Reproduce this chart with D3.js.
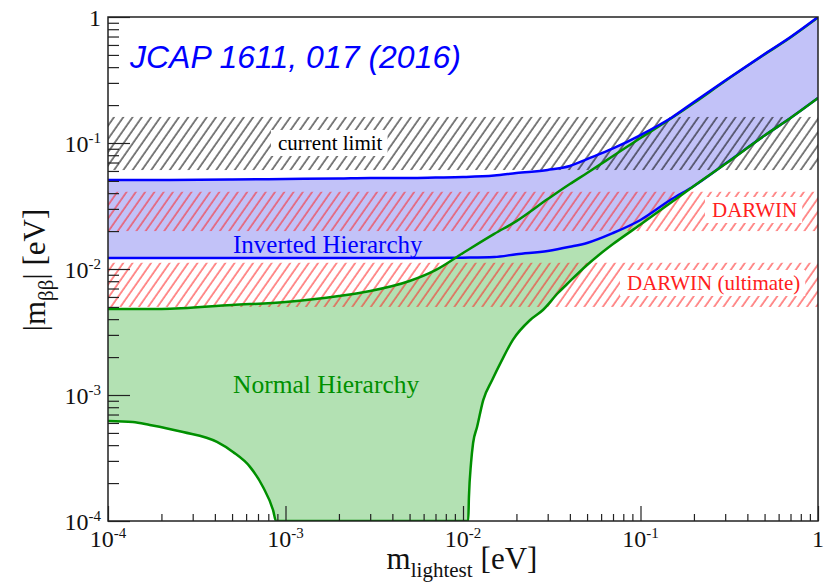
<!DOCTYPE html>
<html>
<head>
<meta charset="utf-8">
<script src="https://cdn.jsdelivr.net/npm/d3@7"></script>
<style>
  body { margin: 0; background: #fff; }
  svg text { font-family: "Liberation Serif", "Times New Roman", serif; }
</style>
</head>
<body>
<div id="chart"></div>
<script>
// ---- data (eV) ----
var gridM = [1e-4, 2e-4, 5e-4, 1e-3, 2e-3, 3e-3, 5e-3, 7e-3, 0.01, 0.015, 0.02,
             0.03, 0.04, 0.05, 0.07, 0.1, 0.15, 0.2, 0.3, 0.5, 0.7, 1];
var ihUpper = [0.0508, 0.0508, 0.0513, 0.0518, 0.0523, 0.0528, 0.0528, 0.0532, 0.0537, 0.0552, 0.0578,
               0.0611, 0.0657, 0.0745, 0.0905, 0.1157, 0.1594, 0.2115, 0.3133, 0.5085, 0.694, 1.0];
var nhUpper = [0.00482, 0.00482, 0.00518, 0.00547, 0.0061, 0.00669, 0.00803, 0.0098, 0.0134, 0.0190, 0.0240,
               0.0359, 0.0473, 0.0578, 0.0788, 0.1096, 0.158, 0.2077, 0.3105, 0.504, 0.6876, 0.99];

var ihLowerM = [1e-4, 1e-3, 0.005, 0.01, 0.015, 0.02, 0.03, 0.04, 0.05, 0.07, 0.1, 0.15, 0.2, 0.3, 0.5, 0.7, 1];
var ihLower = [0.0122, 0.0122, 0.0122, 0.0123, 0.01245, 0.0131, 0.0139, 0.0150, 0.0161, 0.0193, 0.0245,
               0.0359, 0.0456, 0.0684, 0.1146, 0.158, 0.2276];

var nhLowerM = [1e-4, 1.38e-4, 1.72e-4, 2.65e-4, 4.11e-4, 5.06e-4, 6.31e-4, 7.47e-4, 8.51e-4, 8.84e-4, 9.0e-4,
                0.0107, 0.0108, 0.0111, 0.0114, 0.0120, 0.0130, 0.0146, 0.0166, 0.0191, 0.0239, 0.0282,
                0.0343, 0.0386, 0.05, 0.0592, 0.07, 0.1, 0.15, 0.2, 0.3, 0.5, 0.7, 1];
var nhLower = [6.22e-4, 6.1e-4, 5.78e-4, 5.08e-4, 4.24e-4, 3.53e-4, 2.69e-4, 1.86e-4, 1.22e-4, 1.0e-4, 1e-6,
               1e-6, 1.55e-4, 2.89e-4, 4.16e-4, 5.57e-4, 9.12e-4, 1.315e-3, 1.90e-3, 2.74e-3, 3.94e-3, 4.73e-3,
               6.45e-3, 7.6e-3, 0.01076, 0.01315, 0.01578, 0.02254, 0.0340, 0.0456, 0.0681, 0.1147, 0.158, 0.2276];

// sensitivity bands [low, high]
var currentLimit = [0.061, 0.161];
var darwin = [0.020, 0.041];
var darwinUltimate = [0.005, 0.0112];

var xMajor = [1e-4, 1e-3, 1e-2, 1e-1, 1];
var yMajor = [1e-4, 1e-3, 1e-2, 1e-1, 1];

// ---- layout ----
var W = 834, H = 584;
var margin = {top: 17, right: 16, bottom: 63, left: 108};

var svg = d3.select("#chart").append("svg")
  .attr("width", W).attr("height", H);

var x = d3.scaleLog().domain([1e-4, 1]).range([margin.left, W - margin.right]);
var y = d3.scaleLog().domain([1e-4, 1]).range([H - margin.bottom, margin.top]).clamp(true);

var defs = svg.append("defs");
defs.append("clipPath").attr("id", "plotclip").append("rect")
  .attr("x", x(1e-4)).attr("y", y(1))
  .attr("width", x(1) - x(1e-4)).attr("height", y(1e-4) - y(1));

function hatch(id, color, width) {
  var p = defs.append("pattern").attr("id", id)
    .attr("patternUnits", "userSpaceOnUse")
    .attr("width", 7.6).attr("height", 20)
    .attr("patternTransform", "rotate(35)");
  p.append("line").attr("x1", 1).attr("y1", 0).attr("x2", 1).attr("y2", 20)
    .attr("stroke", color).attr("stroke-width", width);
}
hatch("hatchBlack", "#000", 1);
hatch("hatchRed", "#ff2020", 1);

function zip(ms, vs) { return ms.map(function(m, i) { return [m, vs[i]]; }); }

var line = d3.line().x(d => x(d[0])).y(d => y(d[1])).curve(d3.curveMonotoneX);

var plot = svg.append("g").attr("clip-path", "url(#plotclip)");

function band(upper, lower) {
  return line(upper) + "L" + line(lower.slice().reverse()).slice(1) + "Z";
}

// Normal hierarchy fill
plot.append("path").attr("d", band(zip(gridM, nhUpper), zip(nhLowerM, nhLower)))
  .attr("fill", "#b3e1b3").attr("stroke", "none");

// Inverted hierarchy fill
plot.append("path").attr("d", band(zip(gridM, ihUpper), zip(ihLowerM, ihLower)))
  .attr("fill", "#c2c2f8").attr("stroke", "none");

// hatched bands
[[currentLimit, "hatchBlack"], [darwin, "hatchRed"], [darwinUltimate, "hatchRed"]].forEach(function(b) {
  plot.append("rect")
    .attr("x", x(1e-4)).attr("width", x(1) - x(1e-4))
    .attr("y", y(b[0][1])).attr("height", y(b[0][0]) - y(b[0][1]))
    .attr("fill", "url(#" + b[1] + ")");
});

// curves
plot.append("path").attr("d", line(zip(ihLowerM, ihLower)))
  .attr("fill", "none").attr("stroke", "#0000ff").attr("stroke-width", 2.5);
plot.append("path").attr("d", line(zip(gridM, nhUpper)))
  .attr("fill", "none").attr("stroke", "#009000").attr("stroke-width", 2.5);
plot.append("path").attr("d", line(zip(nhLowerM, nhLower)))
  .attr("fill", "none").attr("stroke", "#009000").attr("stroke-width", 2.5);
plot.append("path").attr("d", line(zip(gridM, ihUpper)))
  .attr("fill", "none").attr("stroke", "#0000ff").attr("stroke-width", 2.5);

// boxed band labels
function boxedLabel(txt, tx, ty, color) {
  var g = svg.append("g");
  var r = g.append("rect").attr("fill", "#fff");
  var t = g.append("text").attr("x", tx).attr("y", ty)
    .attr("font-size", 21).attr("fill", color).text(txt);
  var bb = t.node().getBBox();
  r.attr("x", bb.x - 7).attr("y", bb.y - 1).attr("width", bb.width + 12).attr("height", bb.height + 2);
}
boxedLabel("current limit", 278, 150, "#000");
boxedLabel("DARWIN", 712, 217, "#ff2020");
boxedLabel("DARWIN (ultimate)", 627, 290, "#ff2020");

svg.append("text").attr("x", 233).attr("y", 253).attr("font-size", 25)
  .attr("fill", "#0000ff").text("Inverted Hierarchy");
svg.append("text").attr("x", 233).attr("y", 393).attr("font-size", 25.5)
  .attr("fill", "#009000").text("Normal Hierarchy");

svg.append("text").attr("x", 130).attr("y", 68)
  .style("font-family", "'Liberation Sans', Arial, sans-serif")
  .style("font-style", "italic")
  .attr("font-size", 32).attr("fill", "#0000ff").text("JCAP 1611, 017 (2016)");

// ---- axes ----
var minor = [];
[1e-4, 1e-3, 1e-2, 1e-1].forEach(function(d) {
  for (var k = 2; k <= 9; k++) minor.push(d * k);
});

var gx = svg.append("g").attr("transform", "translate(0," + y(1e-4) + ")");
gx.append("g").call(d3.axisBottom(x).tickValues(minor).tickSize(-7).tickFormat(""));
gx.append("g").call(d3.axisBottom(x).tickValues(xMajor).tickSize(-15).tickFormat(""));
var gy = svg.append("g").attr("transform", "translate(" + x(1e-4) + ",0)");
gy.append("g").call(d3.axisLeft(y).tickValues(minor).tickSize(-11).tickFormat(""));
gy.append("g").call(d3.axisLeft(y).tickValues(yMajor).tickSize(-22).tickFormat(""));
svg.selectAll(".domain").remove();
svg.selectAll(".tick line").attr("stroke", "#222").attr("stroke-width", 1.2);

// frame
svg.append("rect")
  .attr("x", x(1e-4)).attr("y", y(1))
  .attr("width", x(1) - x(1e-4)).attr("height", y(1e-4) - y(1))
  .attr("fill", "none").attr("stroke", "#222").attr("stroke-width", 1.5);

function powLabel(sel, v) {
  var e = Math.round(Math.log10(v));
  if (e === 0) { sel.text("1"); return; }
  sel.append("tspan").text("10");
  sel.append("tspan").attr("dy", -9).attr("font-size", 15).text(e);
}

xMajor.forEach(function(v) {
  var t = svg.append("text").attr("x", x(v)).attr("y", 547)
    .attr("text-anchor", "middle").attr("font-size", 24).attr("fill", "#111");
  powLabel(t, v);
});
yMajor.forEach(function(v) {
  var t = svg.append("text").attr("x", 101).attr("y", y(v) + 9)
    .attr("text-anchor", "end").attr("font-size", 24).attr("fill", "#111");
  powLabel(t, v);
});

// axis titles
var xt = svg.append("text").attr("x", 462).attr("y", 569)
  .attr("text-anchor", "middle").attr("font-size", 31).attr("fill", "#111");
xt.append("tspan").text("m");
xt.append("tspan").attr("dy", 8).attr("font-size", 21).text("lightest");
xt.append("tspan").attr("dy", -8).attr("dx", 8).text("[eV]");

var yt = svg.append("text").attr("transform", "translate(45,270) rotate(-90)")
  .attr("text-anchor", "middle").attr("font-size", 31).attr("fill", "#111");
yt.append("tspan").text("|m");
yt.append("tspan").attr("dy", 8).attr("font-size", 21).text("ββ");
yt.append("tspan").attr("dy", -8).text("|\u00a0[eV]");
</script>
</body>
</html>
